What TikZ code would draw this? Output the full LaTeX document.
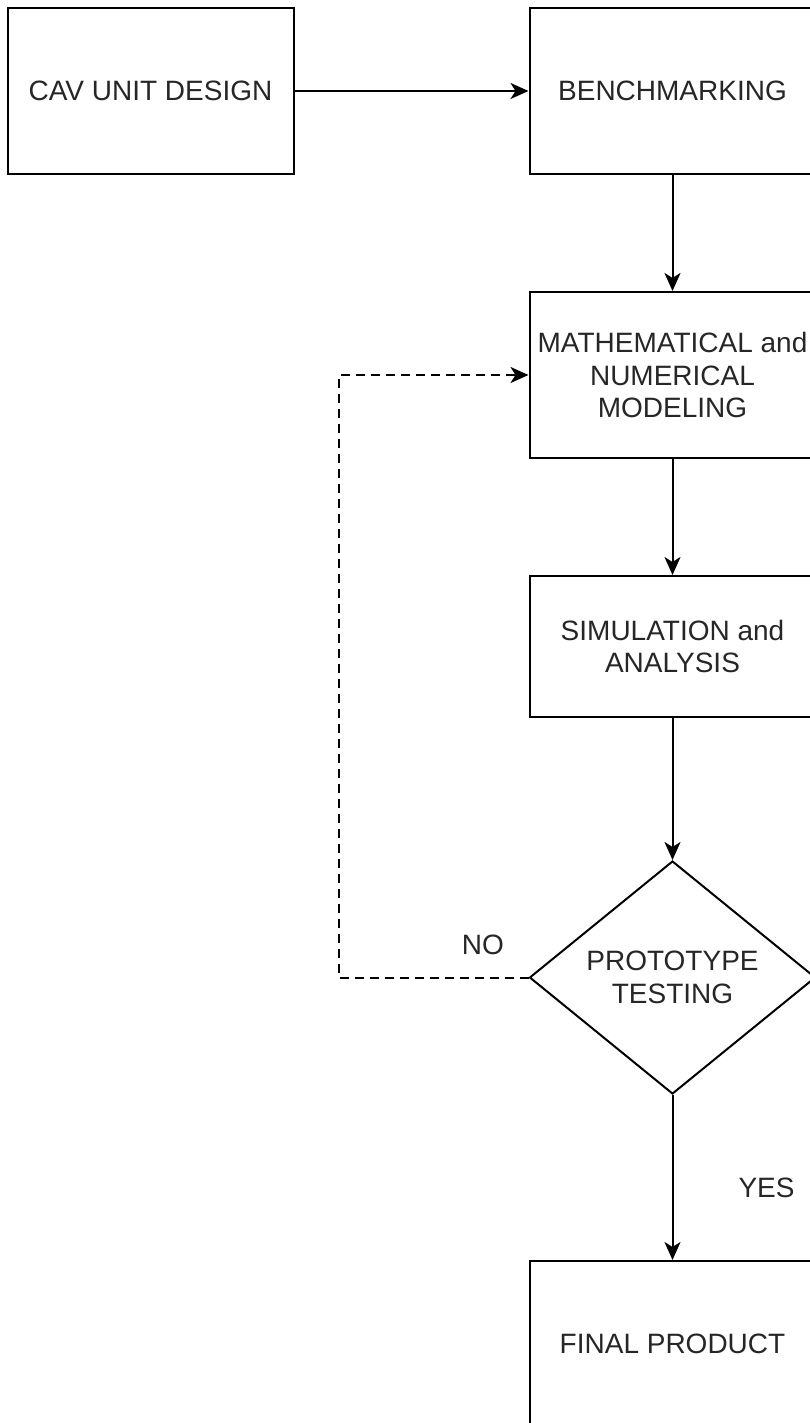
\documentclass[tikz,border=0pt]{standalone}
\usepackage{fontspec}
\setmainfont{Liberation Sans}
\usepackage{xcolor}
\usepackage{tikz}
\usetikzlibrary{arrows.meta, positioning, shapes.geometric}

\begin{document}
\begin{tikzpicture}[
  x=1pt, y=1pt,
  font=\fontsize{28}{32.5}\selectfont,
  node distance = 116pt and 234pt,
  box/.style    = {draw, rectangle, line width=2pt,
                   minimum width=286pt, minimum height=166pt,
                   align=center, text=black!85},
  decide/.style = {draw, diamond, line width=2pt, inner sep=0pt,
                   minimum width=286pt, minimum height=233pt,
                   align=center, text=black!85},
  lbl/.style    = {inner sep=0pt, anchor=base, text=black!85},
  arr/.style    = {-{Stealth[length=18pt, width=16pt, inset=5pt]}, line width=2pt},
]
\useasboundingbox (0,0) rectangle (810,-1423);
\clip (0,0) rectangle (810,-1423);

\node[box] (cav) at (150.5,-91) {CAV UNIT DESIGN};
\node[box, right=of cav]   (bench) {BENCHMARKING};
\node[box, below=of bench] (model) {MATHEMATICAL and\\NUMERICAL\\MODELING};
\node[box, below=116pt of model, minimum height=141pt] (sim) {SIMULATION and\\ANALYSIS};
\node[decide, below=142pt of sim] (proto) {PROTOTYPE\\TESTING};
\node[box, below=165pt of proto] (final) {FINAL PRODUCT};

\draw[arr] (cav)   -- (bench);
\draw[arr] (bench) -- (model);
\draw[arr] (model) -- (sim);
\draw[arr] (sim)   -- (proto);
\draw[arr] (proto) -- node[lbl, pos=0.62, anchor=base west, xshift=65pt]{YES} (final);

% NO: back to modeling
\draw[arr, dash pattern=on 9pt off 6pt] (proto.west)
  -- node[lbl, pos=0.24, yshift=23pt]{NO} ++(-190,0) |- (model.west);

\end{tikzpicture}
\end{document}
